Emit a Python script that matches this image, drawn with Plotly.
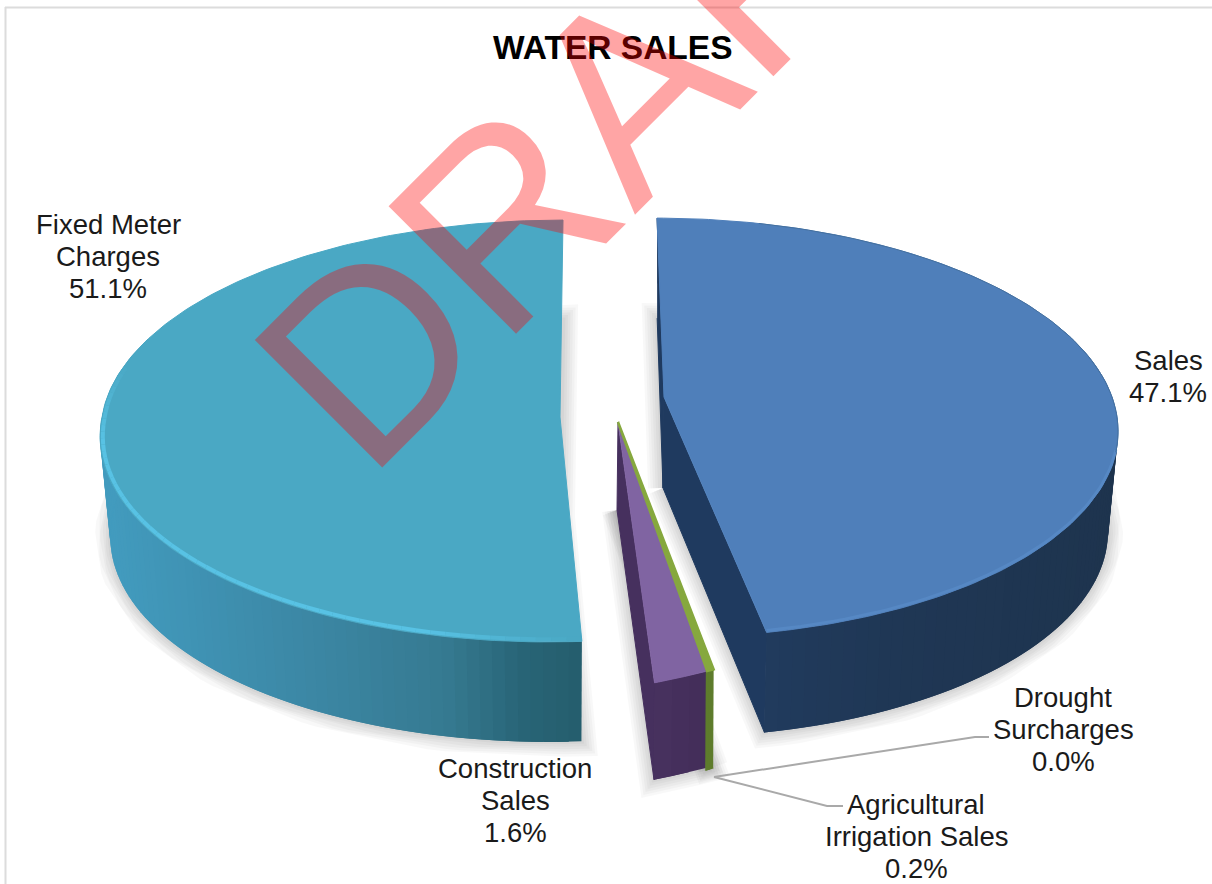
import math
import plotly.graph_objects as go

# Revenue shares in percent, clockwise from twelve o'clock
categories = ["Sales", "Drought Surcharges", "Agricultural Irrigation Sales",
              "Construction Sales", "Fixed Meter Charges"]
shares = [47.1, 0.0, 0.2, 1.6, 51.1]

TITLE = "WATER SALES"
WATERMARK = "DRAFT"

# Label lines by category; the percentage line comes from the shares
label_lines = {
    "Sales": ["Sales"],
    "Drought Surcharges": ["Drought", "Surcharges"],
    "Agricultural Irrigation Sales": ["Agricultural", "Irrigation Sales"],
    "Construction Sales": ["Construction", "Sales"],
    "Fixed Meter Charges": ["Fixed Meter", "Charges"],
}
label_pos = {
    "Sales": (1168, 360),
    "Drought Surcharges": (1063, 697),
    "Agricultural Irrigation Sales": (916, 804),
    "Construction Sales": (515, 768),
    "Fixed Meter Charges": (108, 224),
}
LINE_PITCH = 32
LABEL_SIZE = 27.5

# Leader line waypoints, screen pixels
leaders = [
    ([714, 900, 975, 989], [777, 748, 737, 737]),
    ([714, 827, 843], [777, 806, 806]),
]

# Projection of each exploded slice: apex, radii, perspective and wall depth
geometry = {
    "Sales": dict(ax=664, ay=397, R=448, b=205, k=0.146, sk_back=-7, sk_front=-8,
                  tilt=0, q=0.978, H=100, apex_x=-1, apex_h=91),
    "Agricultural Irrigation Sales": dict(ax=618, ay=422, R=450, b=227, k=0.15, sk_back=0, sk_front=0,
                                          tilt=-80, q=0.995, H=98, apex_x=-1, apex_h=88),
    "Construction Sales": dict(ax=618, ay=422, R=450, b=227, k=0.15, sk_back=0, sk_front=0,
                               tilt=-80, q=0.985, H=97, apex_x=-1, apex_h=88),
    "Fixed Meter Charges": dict(ax=560, ay=417, R=458, b=210, k=0.0663, sk_back=3, sk_front=12,
                                tilt=0, q=0.978, H=100, apex_x=0, apex_h=100),
}

top_color = {
    "Sales": "#4f7fba",
    "Agricultural Irrigation Sales": "#86a83e",
    "Construction Sales": "#8064a2",
    "Fixed Meter Charges": "#4aa8c4",
}
# Wall shading as (screen x, colour) stops
wall_stops = {
    "Sales": [(660, (34, 62, 100)), (900, (31, 55, 85)), (1120, (30, 52, 78))],
    "Agricultural Irrigation Sales": [(700, (94, 124, 44)), (720, (94, 124, 44))],
    "Construction Sales": [(650, (72, 50, 96)), (710, (68, 46, 90))],
    "Fixed Meter Charges": [(110, (66, 155, 190)), (300, (60, 136, 166)),
                            (450, (54, 122, 145)), (530, (40, 100, 118)), (585, (37, 94, 110))],
}
inner_wall_color = {
    "Sales": "#1f3a5f",
    "Construction Sales": "#46305e",
}
# The thinnest slice gets a slightly heavier outline so it stays legible
wall_outline = {"Agricultural Irrigation Sales": 2.5}


def rim(g, deg, lower=False):
    u, v = math.sin(math.radians(deg)), math.cos(math.radians(deg))
    m = 1 / (1 + g["k"] * v)
    sk = g["sk_back"] if v > 0 else g["sk_front"]
    x = g["ax"] + g["R"] * u * m + sk * v
    y = g["ay"] - g["b"] * v * m + g["tilt"] * u
    if lower:
        x = g["ax"] + (x - g["ax"]) * g["q"]
        y += g["H"]
    return x, y


def arc(g, start, end, n, lower=False):
    pts = [rim(g, start + (end - start) * i / n, lower) for i in range(n + 1)]
    return [p[0] for p in pts], [p[1] for p in pts]


def shade(stops, x):
    if x <= stops[0][0]:
        return stops[0][1]
    for (x0, c0), (x1, c1) in zip(stops, stops[1:]):
        if x <= x1:
            t = (x - x0) / (x1 - x0)
            return tuple(c0[i] + (c1[i] - c0[i]) * t for i in range(3))
    return stops[-1][1]


def css(c):
    return "rgb(%d,%d,%d)" % tuple(round(a) for a in c)


def poly(fig, xs, ys, color, line_width=1.0):
    fig.add_trace(go.Scatter(x=xs, y=ys, mode="lines", fill="toself", fillcolor=color,
                             line=dict(color=color, width=line_width),
                             hoverinfo="skip", showlegend=False))


def stroke(fig, xs, ys, color, width):
    fig.add_trace(go.Scatter(x=xs, y=ys, mode="lines", line=dict(color=color, width=width),
                             hoverinfo="skip", showlegend=False))


# Angular extent of every slice
spans = {}
start_angle = 0.0
for name, share in zip(categories, shares):
    spans[name] = (start_angle, start_angle + share * 3.6)
    start_angle += share * 3.6

fig = go.Figure()
draw_order = ["Fixed Meter Charges", "Construction Sales", "Agricultural Irrigation Sales", "Sales"]

# Soft drop shadow traced round the footprint of each slice
for name in draw_order:
    g, (a0, a1) = geometry[name], spans[name]
    xs, ys = arc(g, a0, a1, 90, lower=True)
    apex = (g["ax"] + g["apex_x"], g["ay"] + g["apex_h"])
    xs, ys = [apex[0]] + xs + [apex[0]], [apex[1]] + ys + [apex[1]]
    for w in (30, 25, 20, 15, 10, 5):
        stroke(fig, xs, ys, "rgba(0,0,0,0.028)", w)

for name in draw_order:
    g, (a0, a1) = geometry[name], spans[name]
    apex_low = (g["ax"] + g["apex_x"], g["ay"] + g["apex_h"])

    # Cut faces that turn towards the viewer
    if name in inner_wall_color:
        far_x, far_y = rim(g, a1)
        far_lx, far_ly = rim(g, a1, lower=True)
        if name == "Sales":
            top_x, top_y = rim(g, a0)
            low_x, low_y = rim(g, a0, lower=True)
            poly(fig, [top_x, g["ax"], apex_low[0], low_x],
                 [top_y, g["ay"], apex_low[1], low_y], inner_wall_color[name])
        poly(fig, [g["ax"], apex_low[0], far_lx, far_x],
             [g["ay"], apex_low[1], far_ly, far_y], inner_wall_color[name])

    # Outer wall, painted as overlapping strips so the shading stays continuous
    step = 1.5
    steps = max(2, int((a1 - a0) / step))
    width = (a1 - a0) / steps
    for i in range(steps):
        s0 = a0 + width * i
        s1 = min(a1, s0 + 2 * width)
        if math.cos(math.radians(s0 + width / 2)) > 0.35:
            continue
        x0, y0 = rim(g, s0)
        x1, y1 = rim(g, s1)
        x2, y2 = rim(g, s1, lower=True)
        x3, y3 = rim(g, s0, lower=True)
        poly(fig, [x0, x1, x2, x3], [y0, y1, y2, y3],
             css(shade(wall_stops[name], x0)), line_width=wall_outline.get(name, 0))

    # Top face
    xs, ys = arc(g, a0, a1, 180)
    poly(fig, [g["ax"]] + xs + [g["ax"]], [g["ay"]] + ys + [g["ay"]], top_color[name],
         line_width=wall_outline.get(name, 1.0))

# Bevel highlight along the front rim of the largest slice, inset from the edge
g, (a0, a1) = geometry["Fixed Meter Charges"], spans["Fixed Meter Charges"]
base = (74, 168, 196)
glow = (88, 194, 228)
seg = 60
stop = 284.0
for i in range(seg):
    s0 = a0 + (stop - a0) * i / seg
    s1 = a0 + (stop - a0) * (i + 1) / seg
    t = min(1.0, i / 10) * min(1.0, (seg - i) / 12)
    color = css(tuple(base[c] + (glow[c] - base[c]) * t for c in range(3)))
    x0, y0 = rim(g, s0)
    x1, y1 = rim(g, s1)
    stroke(fig,
           [x0 + (g["ax"] - x0) * 0.006, x1 + (g["ax"] - x1) * 0.006],
           [y0 + (g["ay"] - y0) * 0.012, y1 + (g["ay"] - y1) * 0.012],
           color, 4)

# Soft lift on the front rim of the sales slice, darker edge along its back rim
g, (a0, a1) = geometry["Sales"], spans["Sales"]
xs, ys = arc(g, 105, a1, 50)
stroke(fig, xs, [y - 2 for y in ys], "#5688c4", 3)
xs, ys = arc(g, a0 + 15, 105, 60)
stroke(fig, xs, ys, "#44709f", 1)

# Leader lines for the two thinnest slices
for lx, ly in leaders:
    stroke(fig, lx, ly, "#a9a9a9", 2)

annotations = []
text_font = "Liberation Sans, Arial, sans-serif"

annotations.append(dict(x=612, y=47, xref="x", yref="y", text="<b>%s</b>" % TITLE, showarrow=False,
                        font=dict(family=text_font, size=33.5, color="#000000"),
                        xanchor="center", yanchor="middle"))

for name, share in zip(categories, shares):
    cx, cy = label_pos[name]
    lines = label_lines[name] + ["%.1f%%" % share]
    for i, line in enumerate(lines):
        annotations.append(dict(x=cx, y=cy + i * LINE_PITCH, xref="x", yref="y", text=line,
                                showarrow=False,
                                font=dict(family=text_font, size=LABEL_SIZE, color="#1a1a1a"),
                                xanchor="center", yanchor="middle"))

# Diagonal stamp across the page, running off the top edge
annotations.append(dict(x=611, y=110, xref="x", yref="y", text=WATERMARK, showarrow=False,
                        textangle=-45,
                        font=dict(family=text_font, size=262, color="rgba(255,0,0,0.353)"),
                        xanchor="center", yanchor="middle"))

frame_color = "#dcdcdc"
fig.update_layout(
    width=1212, height=884, autosize=False,
    margin=dict(l=0, r=0, t=0, b=0),
    paper_bgcolor="#ffffff", plot_bgcolor="#ffffff",
    showlegend=False,
    xaxis=dict(range=[0, 1212], visible=False, fixedrange=True),
    yaxis=dict(range=[884, 0], visible=False, fixedrange=True),
    annotations=annotations,
    shapes=[
        dict(type="line", xref="x", yref="y", x0=5, x1=1212, y0=7.5, y1=7.5,
             line=dict(color=frame_color, width=2), layer="below"),
        dict(type="line", xref="x", yref="y", x0=5.5, x1=5.5, y0=7, y1=884,
             line=dict(color=frame_color, width=2), layer="below"),
    ],
)

fig.write_html("out.html", config=dict(displayModeBar=False))
